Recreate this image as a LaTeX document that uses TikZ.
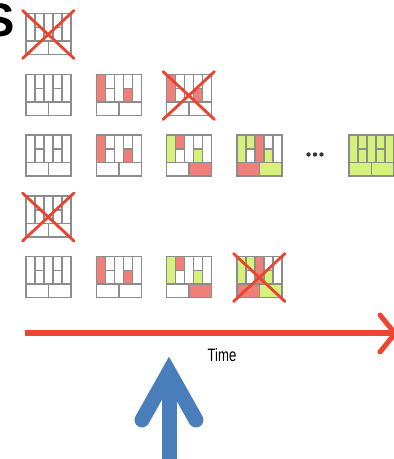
\documentclass[tikz,border=0pt]{standalone}
\usepackage{fontspec}
\usepackage{graphicx}
\setmainfont{Liberation Sans}
\usetikzlibrary{decorations.pathmorphing}
\definecolor{cellred}{HTML}{F07F7A}
\definecolor{cellgreen}{HTML}{D6F27B}
\definecolor{gridgray}{HTML}{8C8C8C}
\definecolor{crossred}{HTML}{EA4330}
\definecolor{timered}{HTML}{EE4530}
\definecolor{arrowblue}{HTML}{4A7EBB}
\tikzset{
  gridline/.style={draw=gridgray, line width=1.3pt},
  crossline/.style={draw=crossred, line width=2.8pt, line cap=round},
  W/.style={fill=white},
  R/.style={fill=cellred},
  G/.style={fill=cellgreen},
}
% one 45 x 41 grid, top-left at the origin of the current scope
\newcommand{\statebox}[9]{%
  \fill[#1] (0,0) rectangle (9,27.5);
  \fill[#2] (9,0) rectangle (18,14);
  \fill[#3] (9,14) rectangle (18,27.5);
  \fill[#4] (18,0) rectangle (27,27.5);
  \fill[#5] (27,0) rectangle (36,14);
  \fill[#6] (27,14) rectangle (36,27.5);
  \fill[#7] (36,0) rectangle (45,27.5);
  \fill[#8] (0,27.5) rectangle (22.5,41);
  \fill[#9] (22.5,27.5) rectangle (45,41);
  \draw[gridline] (0,0) rectangle (45,41)
    (9,0) -- (9,27.5) (18,0) -- (18,27.5) (27,0) -- (27,27.5) (36,0) -- (36,27.5)
    (9,14) -- (18,14) (27,14) -- (36,14)
    (0,27.5) -- (45,27.5) (22.5,27.5) -- (22.5,41);
}
\newcommand{\crossout}{%
  \draw[crossline] (-3.5,-3) -- (48,45) (48,-3) -- (-3.5,45);
}
\begin{document}
\begin{tikzpicture}[x=1pt,y=-1pt]
\useasboundingbox (0,0) rectangle (394,459);
\fill[white] (0,0) rectangle (394,459);

% partial title letter
\node[anchor=base east, inner sep=0pt, font=\fontsize{47}{47}\selectfont\bfseries] (title) at (15,36.5) {S};

% row 0
\begin{scope}[shift={(26,13.5)}]
  \statebox{W}{W}{W}{W}{W}{W}{W}{W}{W}\crossout
\end{scope}
% row 1
\begin{scope}[shift={(26,74.5)}]
  \statebox{W}{W}{W}{W}{W}{W}{W}{W}{W}
\end{scope}
\begin{scope}[shift={(96.5,74.5)}]
  \statebox{R}{W}{W}{W}{W}{R}{W}{W}{W}
\end{scope}
\begin{scope}[shift={(166.5,74.5)}]
  \statebox{R}{W}{W}{W}{W}{R}{W}{W}{W}\crossout
\end{scope}
% row 2
\begin{scope}[shift={(26,135)}]
  \statebox{W}{W}{W}{W}{W}{W}{W}{W}{W}
\end{scope}
\begin{scope}[shift={(96.5,135)}]
  \statebox{R}{W}{W}{W}{W}{R}{W}{W}{W}
\end{scope}
\begin{scope}[shift={(166.5,135)}]
  \statebox{G}{R}{W}{W}{W}{G}{W}{W}{R}
\end{scope}
\begin{scope}[shift={(237,135)}]
  \statebox{G}{G}{W}{R}{W}{G}{W}{R}{G}
\end{scope}
\foreach \dx in {308.5,315,321.5}
  \fill[black!80] (\dx,154.5) circle (2.2);
\begin{scope}[shift={(349,135)}]
  \statebox{G}{G}{G}{G}{G}{G}{G}{G}{G}
\end{scope}
% row 3
\begin{scope}[shift={(26,196)}]
  \statebox{W}{W}{W}{W}{W}{W}{W}{W}{W}\crossout
\end{scope}
% row 4
\begin{scope}[shift={(26,256.5)}]
  \statebox{W}{W}{W}{W}{W}{W}{W}{W}{W}
\end{scope}
\begin{scope}[shift={(96.5,256.5)}]
  \statebox{R}{W}{W}{W}{W}{R}{W}{W}{W}
\end{scope}
\begin{scope}[shift={(166.5,256.5)}]
  \statebox{G}{R}{W}{W}{W}{G}{W}{W}{R}
\end{scope}
\begin{scope}[shift={(237,256.5)}]
  \statebox{G}{G}{W}{R}{W}{G}{W}{R}{G}\crossout
\end{scope}

% time axis
\coordinate (tstart) at (25,333);
\coordinate (tend) at (392,333);
\draw[timered, line width=6pt] (tstart) -- (tend);
\draw[timered, line width=1.5pt, decorate, decoration={random steps, segment length=2pt, amplitude=1.2pt}] (tstart) -- (tend);
\coordinate (tip) at (395,333.5);
\draw[timered, line width=5pt, line cap=round, line join=miter] (380,315) -- (tip) -- (380,352);
\node[anchor=base, inner sep=0pt, font=\fontsize{18}{18}\selectfont] (time) at (222,361.7) {\scalebox{0.73}[1]{Time}};

% blue arrow
\coordinate (bapex) at (169,372);
\coordinate (bbase) at (169,470);
\fill[arrowblue] (161.5,380) rectangle (176.5,470);
\draw[arrowblue, line width=15pt, line cap=round, line join=miter] (142,420) -- (bapex) -- (196,420);
\end{tikzpicture}
\end{document}
